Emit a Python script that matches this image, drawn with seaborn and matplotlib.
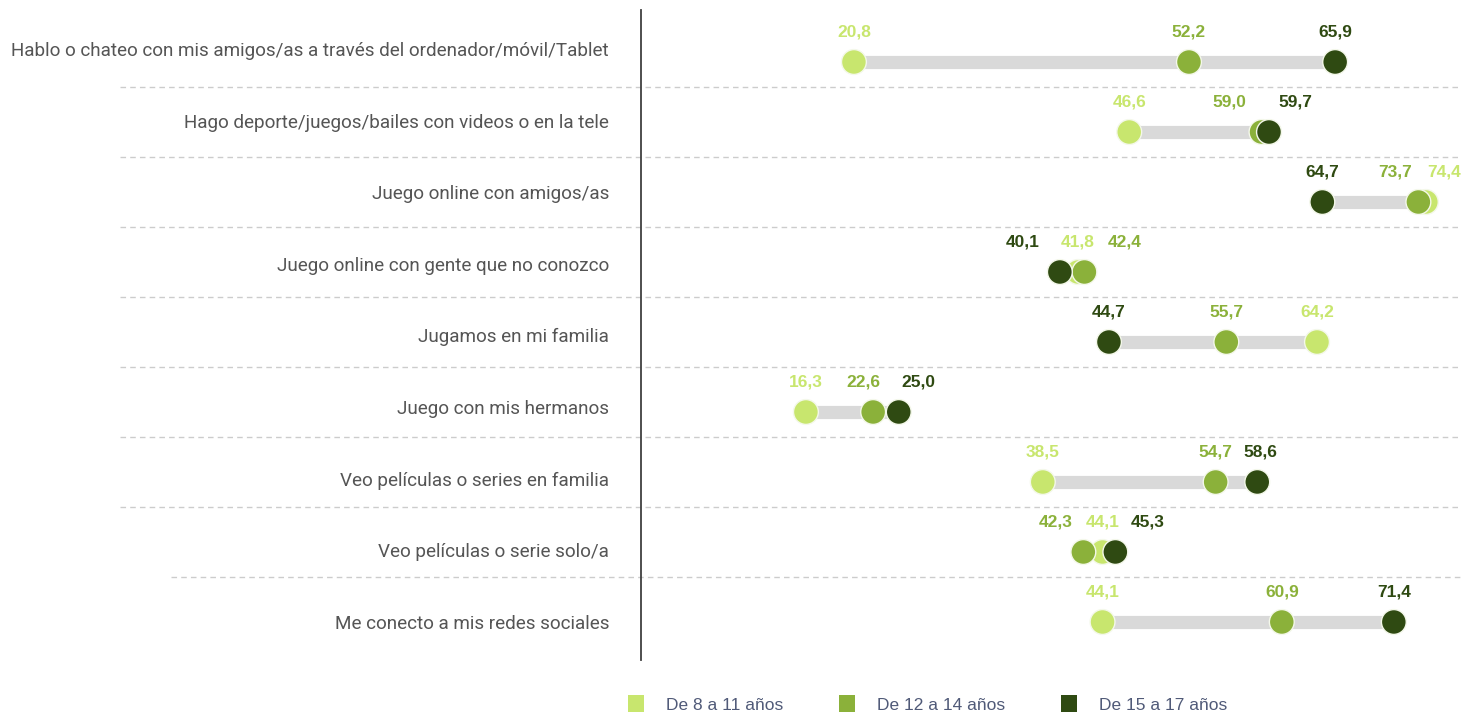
import numpy as np
import pandas as pd
import matplotlib
matplotlib.use("Agg")
import matplotlib.pyplot as plt
from matplotlib.patches import Patch
from matplotlib.transforms import ScaledTranslation
import seaborn as sns

categories = [
    "Hablo o chateo con mis amigos/as a través del ordenador/móvil/Tablet",
    "Hago deporte/juegos/bailes con videos o en la tele",
    "Juego online con amigos/as",
    "Juego online con gente que no conozco",
    "Jugamos en mi familia",
    "Juego con mis hermanos",
    "Veo películas o series en familia",
    "Veo películas o serie solo/a",
    "Me conecto a mis redes sociales",
]
groups = ["De 8 a 11 años", "De 12 a 14 años", "De 15 a 17 años"]
age_8_11 = [20.8, 46.6, 74.4, 41.8, 64.2, 16.3, 38.5, 44.1, 44.1]
age_12_14 = [52.2, 59.0, 73.7, 42.4, 55.7, 22.6, 54.7, 42.3, 60.9]
age_15_17 = [65.9, 59.7, 64.7, 40.1, 44.7, 25.0, 58.6, 45.3, 71.4]

colors = ["#c8e66e", "#8bb13a", "#2f4a12"]

# nudges (points) for labels that would collide: (row, group) -> dx
label_dx = {
    (1, 1): -23, (1, 2): 19,
    (2, 1): -17, (2, 0): 13,
    (3, 2): -27, (3, 1): 29,
    (5, 1): -7, (5, 2): 14,
    (6, 2): 2,
    (7, 1): -20, (7, 2): 23,
}

rows = []
for g, vals in zip(groups, [age_8_11, age_12_14, age_15_17]):
    for i, v in enumerate(vals):
        rows.append({"cat": i, "grupo": g, "valor": v})
df = pd.DataFrame(rows)

sns.set_style("white")
plt.rcParams["font.family"] = ["Liberation Sans", "DejaVu Sans"]

fig = plt.figure(figsize=(14.62, 7.14), dpi=100)
ax = fig.add_axes([641 / 1462, 1 - 660 / 714, 1 - 641 / 1462, 650 / 714])

lo = np.minimum.reduce([age_8_11, age_12_14, age_15_17])
hi = np.maximum.reduce([age_8_11, age_12_14, age_15_17])
ax.hlines(range(len(categories)), lo, hi, color="#d9d9d9", linewidth=9.5, zorder=1)

sns.scatterplot(data=df, x="valor", y="cat", hue="grupo", palette=colors,
                hue_order=groups, s=320, edgecolor="#f4f8ea", linewidth=1,
                legend=False, ax=ax, zorder=3)

for gi, vals in enumerate([age_8_11, age_12_14, age_15_17]):
    for i, v in enumerate(vals):
        dx = label_dx.get((i, gi), 0)
        ax.annotate(f"{v:.1f}".replace(".", ","), (v, i), xytext=(dx, 16),
                    textcoords="offset points", ha="center", va="bottom",
                    fontsize=12.5, fontweight="bold", color=colors[gi], zorder=4)

for k in range(len(categories) - 1):
    x0 = -0.573 if k == len(categories) - 2 else -0.635
    ax.axhline(k + 0.36, xmin=x0, xmax=1, color="#cccccc", linewidth=1,
               linestyle=(0, (4, 3)), clip_on=False, zorder=0)

ax.set_xlim((641 - 632) / 10.67, (1462 - 632) / 10.67)
ax.set_ylim(8.543, -0.743)
ax.set_yticks(range(len(categories)))
ax.set_yticklabels(categories, fontsize=13.6, color="#555555", family=["Roboto", "DejaVu Sans"])
ax.tick_params(axis="y", length=0, pad=23)
# category labels sit on a slightly wider grid than the dots
for k, lab in enumerate(ax.get_yticklabels()):
    lab.set_transform(lab.get_transform() + ScaledTranslation(0, (13 - 1.6 * k) / 100, fig.dpi_scale_trans))
ax.set_xticks([])
ax.set_xlabel("")
ax.set_ylabel("")
for s in ["top", "right", "bottom"]:
    ax.spines[s].set_visible(False)
ax.spines["left"].set_color("#404040")
ax.spines["left"].set_linewidth(1.3)

handles = [Patch(facecolor=c, edgecolor="none", label=g) for c, g in zip(colors, groups)]
fig.legend(handles=handles, loc="center left", bbox_to_anchor=(612 / 1462, 1 - 704 / 714),
           ncol=3, frameon=False, fontsize=12.5, labelcolor="#505a78",
           handlelength=0.95, handleheight=1.1, handletextpad=1.25, columnspacing=3.2)

fig.savefig("out.png", dpi=100)
